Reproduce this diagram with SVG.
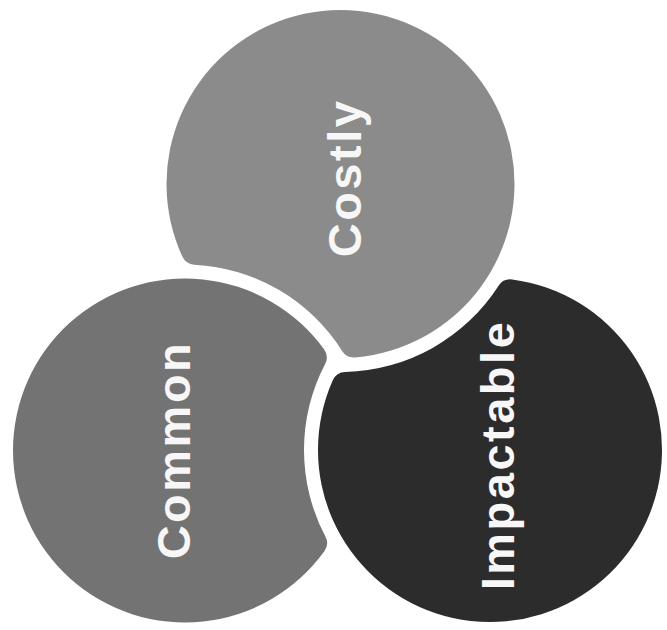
<svg xmlns="http://www.w3.org/2000/svg" width="667" height="630" viewBox="0 0 667 630">
  <style>
    .label { font-family: "Liberation Sans", Arial, sans-serif; font-weight: bold; font-size: 47px; letter-spacing: 2.5px; fill: #f7f7f7; text-anchor: middle; }
    .costly { fill: #8b8b8b; }
    .common { fill: #737373; }
    .impactable { fill: #2c2c2c; }
  </style>
  <rect width="667" height="630" fill="#ffffff"/>

  <!-- each disc is clipped by its neighbour's enlarged circle, corners filleted (r=14) -->
  <g id="costly">
    <path class="costly" d="M 182.37 256.60 A 174 174 0 1 1 355.11 357.39 A 14 14 0 0 1 342.10 350.93 A 186 186 0 0 0 194.38 264.74 A 14 14 0 0 1 182.37 256.60 Z"/>
    <text class="label" transform="translate(361 178) rotate(-90)">Costly</text>
  </g>

  <g id="common">
    <path class="common" d="M 324.02 349.20 A 172 172 0 1 0 324.34 551.34 A 14 14 0 0 0 325.39 536.61 A 186 186 0 0 1 325.11 363.93 A 14 14 0 0 0 324.02 349.20 Z"/>
    <text class="label" transform="translate(190 450) rotate(-90)">Common</text>
  </g>

  <g id="impactable">
    <path class="impactable" d="M 512.17 279.44 A 172 172 0 1 1 332.77 380.26 A 14 14 0 0 1 345.22 371.94 A 188 188 0 0 0 498.60 285.74 A 14 14 0 0 1 512.17 279.44 Z"/>
    <text class="label" transform="translate(514 455) rotate(-90)">Impactable</text>
  </g>

  <g id="connectors"/>
</svg>
